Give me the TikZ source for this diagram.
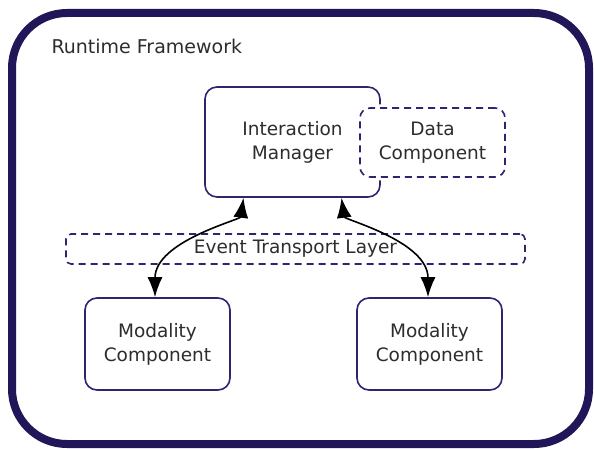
\documentclass[tikz,border=0pt]{standalone}
\usepackage{fontspec}
\setmainfont{DejaVu Sans}
\usetikzlibrary{arrows.meta}
\definecolor{frame}{RGB}{32,22,88}
\definecolor{boxc}{RGB}{45,38,110}
\definecolor{txt}{RGB}{45,45,45}
\tikzset{
  compbox/.style={draw=boxc, line width=1.6pt, rounded corners=12pt, fill=white,
    align=center, text=txt, font=\fontsize{18.5}{24}\selectfont, inner sep=0pt},
  dashbox/.style={draw=boxc, line width=1.6pt, dash pattern=on 7pt off 5pt,
    align=center, text=txt, font=\fontsize{18.5}{24}\selectfont, inner sep=0pt},
  arr/.style={line width=1.6pt, black, {Latex[length=20pt,width=15pt]}-{Latex[length=20pt,width=15pt]}},
}
\begin{document}
\begin{tikzpicture}[x=1pt,y=-1pt]
\useasboundingbox (0,0) rectangle (594,449);
\draw[frame, line width=8pt, rounded corners=55pt] (12,13) rectangle (589,444);
\node[anchor=west, text=txt, font=\fontsize{19}{22}\selectfont] (rt) at (48,46) {Runtime Framework};

\node[compbox, minimum width=175pt, minimum height=110pt] (im) at (292.5,142) {Interaction\\Manager};
\draw[white, line width=7pt, rounded corners=10pt] (360,108) rectangle (505,177);
\node[dashbox, fill=white, rounded corners=10pt, minimum width=145pt, minimum height=69pt] (dc) at (432.5,142.5) {Data\\Component};

\node[dashbox, rounded corners=5pt, minimum width=459pt, minimum height=30pt] (etl) at (295.5,249) {Event Transport Layer};

\node[compbox, minimum width=145pt, minimum height=92pt] (mc1) at (157.5,344) {Modality\\Component};
\node[compbox, minimum width=145pt, minimum height=92pt] (mc2) at (429.5,344) {Modality\\Component};

\draw[arr] ([xshift=-49pt]im.south) .. controls +(-3,22) and +(0,-56) .. ([xshift=-2.5pt]mc1.north);
\draw[arr] ([xshift=49pt]im.south) .. controls +(3,22) and +(0,-56) .. ([xshift=-1.5pt]mc2.north);
\end{tikzpicture}
\end{document}
